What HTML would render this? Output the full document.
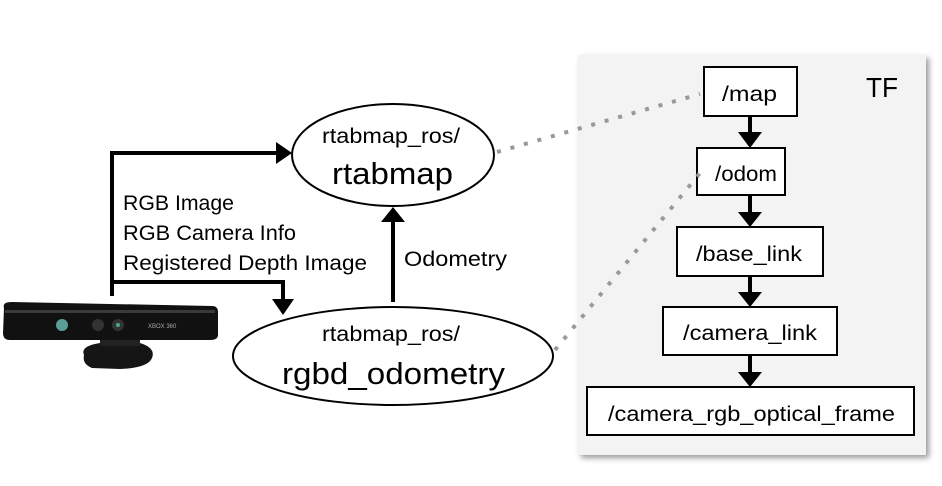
<!DOCTYPE html>
<html><head><style>
body{margin:0;background:#fff;width:942px;height:481px;overflow:hidden}
svg text{font-family:"Liberation Sans",sans-serif;fill:#000}
</style></head><body>
<svg width="942" height="481" viewBox="0 0 942 481" xmlns="http://www.w3.org/2000/svg">
<defs><filter id="sh" x="-5%" y="-5%" width="115%" height="115%"><feDropShadow dx="3" dy="3" stdDeviation="3" flood-color="#999"/></filter></defs>
<rect x="578" y="55" width="348" height="400" fill="#f3f3f3" filter="url(#sh)"/>
<text x="866" y="97" font-size="28" textLength="32" lengthAdjust="spacingAndGlyphs">TF</text>
<g fill="#fff" stroke="#000" stroke-width="2">
<rect x="704" y="67" width="93" height="49"/>
<rect x="697" y="148" width="88" height="47"/>
<rect x="677" y="227" width="146" height="49"/>
<rect x="663" y="307" width="174" height="48"/>
<rect x="587" y="387" width="327" height="48"/>
</g>
<g font-size="21" lengthAdjust="spacingAndGlyphs">
<text x="722" y="101" textLength="55" lengthAdjust="spacingAndGlyphs">/map</text>
<text x="715" y="181" textLength="62" lengthAdjust="spacingAndGlyphs">/odom</text>
<text x="696" y="261" textLength="106" lengthAdjust="spacingAndGlyphs">/base_link</text>
<text x="683" y="340" textLength="134" lengthAdjust="spacingAndGlyphs">/camera_link</text>
<text x="608" y="421" textLength="287" lengthAdjust="spacingAndGlyphs">/camera_rgb_optical_frame</text>
</g>
<g stroke="#000" stroke-width="4">
<line x1="750" y1="116" x2="750" y2="134"/>
<line x1="750" y1="195" x2="750" y2="213"/>
<line x1="750" y1="276" x2="750" y2="293"/>
<line x1="750" y1="355" x2="750" y2="373"/>
</g>
<g fill="#000">
<polygon points="738,132 762,132 750,148"/>
<polygon points="738,212 762,212 750,227"/>
<polygon points="738,292 762,292 750,307"/>
<polygon points="738,372 762,372 750,387"/>
</g>
<g stroke="#999" stroke-width="4" stroke-dasharray="4,10" fill="none">
<line x1="497" y1="152" x2="700" y2="94"/>
<line x1="555" y1="350" x2="700" y2="173"/>
</g>
<ellipse cx="393" cy="155" rx="101" ry="51" fill="#fff" stroke="#000" stroke-width="2"/>
<ellipse cx="393" cy="356" rx="160" ry="49" fill="#fff" stroke="#000" stroke-width="2"/>
<text x="322" y="143" font-size="21" textLength="138" lengthAdjust="spacingAndGlyphs">rtabmap_ros/</text>
<text x="332" y="184" font-size="31" textLength="121" lengthAdjust="spacingAndGlyphs">rtabmap</text>
<text x="322" y="341" font-size="21" textLength="138" lengthAdjust="spacingAndGlyphs">rtabmap_ros/</text>
<text x="282" y="384" font-size="31" textLength="223" lengthAdjust="spacingAndGlyphs">rgbd_odometry</text>
<g stroke="#000" stroke-width="4" fill="none">
<polyline points="112,296 112,153 278,153"/>
<polyline points="112,282 283,282 283,300"/>
<line x1="393" y1="302" x2="393" y2="220"/>
</g>
<g fill="#000">
<polygon points="276,142 292,153 276,164"/>
<polygon points="272,299 294,299 283,315"/>
<polygon points="381,222 405,222 393,207"/>
</g>
<g font-size="21">
<text x="123" y="210" textLength="111" lengthAdjust="spacingAndGlyphs">RGB Image</text>
<text x="123" y="240" textLength="173" lengthAdjust="spacingAndGlyphs">RGB Camera Info</text>
<text x="123" y="270" textLength="244" lengthAdjust="spacingAndGlyphs">Registered Depth Image</text>
<text x="404" y="266" textLength="103" lengthAdjust="spacingAndGlyphs">Odometry</text>
</g>
<!-- Kinect -->
<path d="M84,355 Q80,346 100,343 L140,343 Q156,348 152,358 Q148,368 120,369 L92,368 Q82,364 84,355Z" fill="#151515"/>
<rect x="100" y="336" width="40" height="10" fill="#222"/>
<path d="M4,308 Q2,302 12,302 L212,306 Q218,306 218,312 L218,335 Q218,340 210,340 L10,340 Q3,340 3,333Z" fill="#111"/>
<rect x="5" y="310" width="210" height="3" fill="#3a3a3a"/>
<circle cx="62" cy="325" r="6" fill="#5a9e98"/>
<circle cx="98" cy="325" r="6" fill="#333"/>
<circle cx="118" cy="325" r="6" fill="#333"/>
<circle cx="118" cy="325" r="2" fill="#4a8"/>
<text x="148" y="328" font-size="6" style="fill:#aaa">XBOX 360</text>
</svg>
</body></html>
